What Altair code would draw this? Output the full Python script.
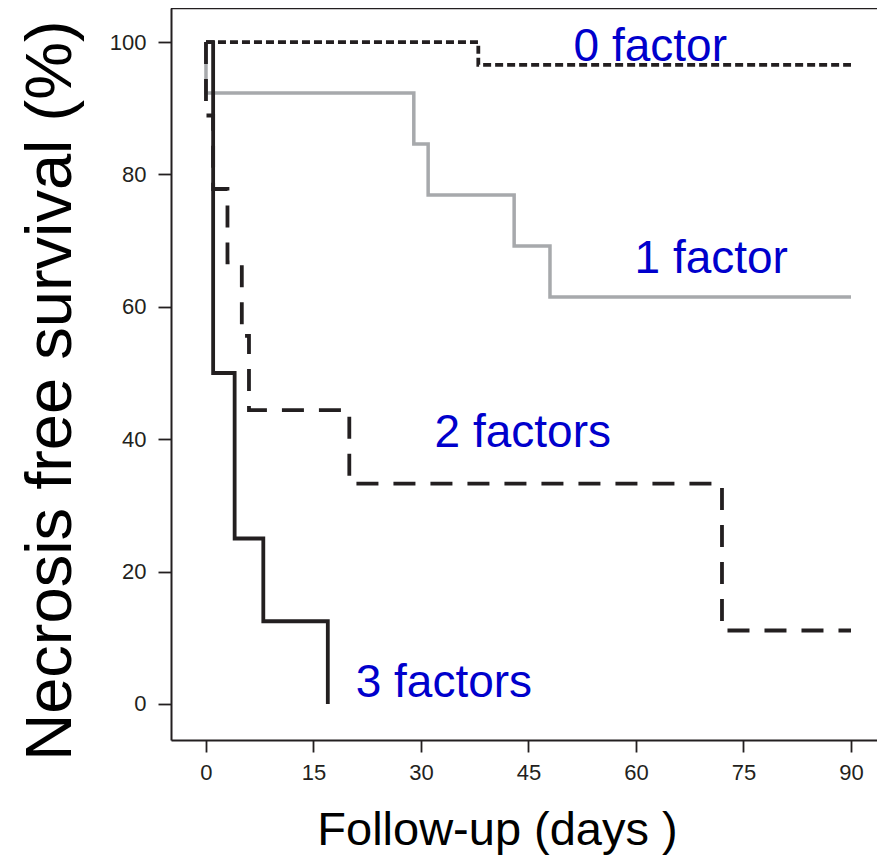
import altair as alt
import pandas as pd

# Kaplan-Meier step data
t0 = [0, 38, 90]
s0 = [100, 96.55, 96.55]
t1 = [0, 0, 29, 31, 43, 48, 90]
s1 = [100, 92.3, 84.6, 76.9, 69.2, 61.5, 61.5]
t2 = [0, 0, 1, 3, 5, 6, 20, 72, 90]
s2 = [100, 88.9, 77.8, 66.7, 55.6, 44.4, 33.3, 11.1, 11.1]
t3 = [0, 1, 4, 8, 17]
s3 = [100, 50, 25, 12.5, 0]

label_text = ["0 factor", "1 factor", "2 factors", "3 factors"]
label_x = [62.0, 70.5, 44.2, 33.2]
label_y = [99.3, 67.2, 40.9, 3.2]

x_ticks = [0, 15, 30, 45, 60, 75, 90]
y_ticks = [0, 20, 40, 60, 80, 100]

W, H = 706, 732
xdom = [-4.88, 93.63]
ydom = [-5.44, 105.14]
ink = "#231f20"


def df(t, s):
    return pd.DataFrame({"t": t, "s": s, "i": list(range(len(t)))})


xs = alt.Scale(domain=xdom, nice=False, zero=False)
ys = alt.Scale(domain=ydom, nice=False, zero=False)

xaxis = alt.Axis(values=x_ticks, title="Follow-up (days )", grid=False,
                 domainColor=ink, domainWidth=2, tickColor=ink, tickWidth=1.8,
                 tickSize=12, labelPadding=10, labelFont="Liberation Sans",
                 labelFontSize=22, labelColor=ink, titleFont="Liberation Sans",
                 titleFontSize=47, titleFontWeight="normal", titleColor="black",
                 titleX=326, titleY=104, titleBaseline="alphabetic",
                 titleAlign="center")
yaxis = alt.Axis(values=y_ticks, title="Necrosis free survival (%)", grid=False,
                 domainColor=ink, domainWidth=2, tickColor=ink, tickWidth=1.8,
                 tickSize=13, labelPadding=12, labelFont="Liberation Sans",
                 labelFontSize=22, labelColor=ink, titleFont="Liberation Sans",
                 titleFontSize=65, titleFontWeight="normal", titleColor="black",
                 titleX=-101, titleY=382, titleBaseline="alphabetic",
                 titleAlign="center", titleAngle=-90)


def step(t, s, color, dash=None, width=3.5):
    kw = dict(interpolate="step-after", color=color, strokeWidth=width,
              strokeCap="butt", strokeJoin="miter")
    if dash:
        kw["strokeDash"] = dash
    return alt.Chart(df(t, s)).mark_line(**kw).encode(
        x=alt.X("t:Q", scale=xs, axis=xaxis),
        y=alt.Y("s:Q", scale=ys, axis=yaxis),
        order="i:Q",
    )


l1 = step(t1, s1, "#a7a9ac", width=3.5)
l2 = step(t2, s2, ink, dash=[22, 15], width=3.8)
l0 = step(t0, s0, ink, dash=[8, 4], width=3.8)
l3 = step(t3, s3, ink, width=3.8)

top = alt.Chart(pd.DataFrame({"a": [0]})).mark_rule(color=ink, strokeWidth=2.5).encode(
    x=alt.value(0), x2=alt.value(W), y=alt.value(0)
)

labels = alt.Chart(pd.DataFrame({"x": label_x, "y": label_y, "txt": label_text})).mark_text(
    font="Liberation Sans", fontSize=46, color="#0000cc", align="center", baseline="middle"
).encode(x=alt.X("x:Q", scale=xs), y=alt.Y("y:Q", scale=ys), text="txt:N")

chart = alt.layer(l1, l2, l0, l3, top, labels).properties(
    width=W, height=H,
    autosize=alt.AutoSizeParams(type="none"),
    padding={"left": 163, "top": 0, "right": 0, "bottom": 115},
).configure_view(stroke=None).configure(background="white")

chart.save("out.html", embed_options={"renderer": "svg", "actions": False})
